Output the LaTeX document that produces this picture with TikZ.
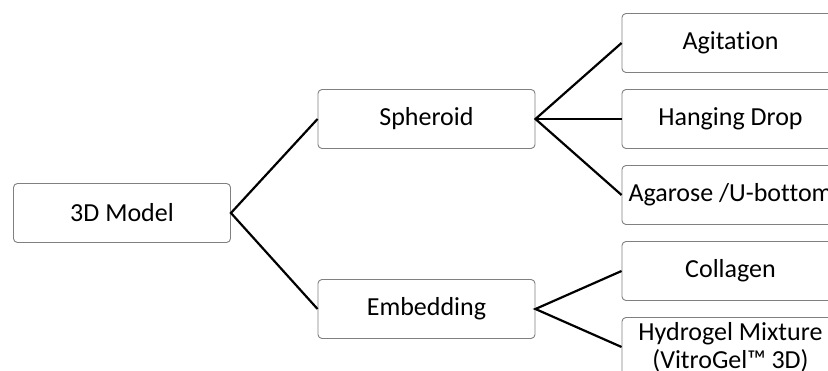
\documentclass[tikz,border=0pt]{standalone}
\usepackage{fontspec}
\setmainfont{Carlito}[Ligatures=NoCommon]
\begin{document}
\begin{tikzpicture}[x=1pt,y=-1pt,
  box/.style={draw=black!50, line width=0.9pt, rounded corners=4pt, fill=white,
    minimum width=217pt, minimum height=59pt, inner sep=0pt, align=center,
    font=\fontsize{26}{28}\selectfont},
  link/.style={line width=2.2pt, black}]
\useasboundingbox (0,0) rectangle (828,371);
\clip (0,0) rectangle (828,371);
\node[box] (model) at (122,213) {3D Model};
\node[box] (sph) at (426.5,119) {Spheroid};
\node[box] (emb) at (426.5,309) {Embedding};
\node[box] (agi) at (730.5,43) {Agitation};
\node[box] (hang) at (730.5,119) {Hanging Drop};
\node[box] (agar) at (730.5,195) {Agarose /U-bottom};
\node[box] (coll) at (730.5,271) {Collagen};
\node[box] (hyd) at (730.5,347) {Hydrogel Mixture\\(VitroGel™ 3D)};
\draw[link] (sph.west) -- (model.east) -- (emb.west);
\draw[link] (agi.west) -- (sph.east) -- (agar.west);
\draw[link] (sph.east) -- (hang.west);
\draw[link] (coll.west) -- (emb.east) -- (hyd.west);
\end{tikzpicture}
\end{document}
